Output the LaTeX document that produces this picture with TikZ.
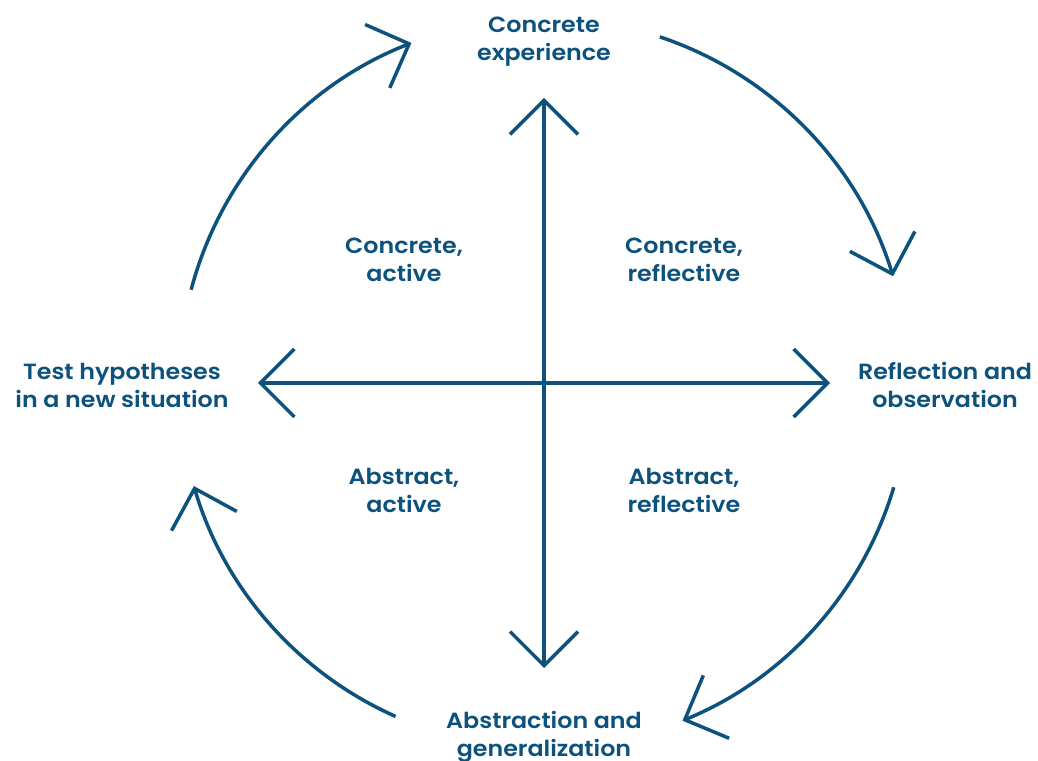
\documentclass[tikz,border=0pt]{standalone}
\usepackage{fontspec}
\setmainfont{Poppins}[BoldFont={Poppins SemiBold}, FakeStretch=1.08]
\usetikzlibrary{arrows.meta}
\definecolor{kolbblue}{RGB}{12,82,125}

\begin{document}
\begin{tikzpicture}
[
    x=1pt, y=1pt,
    % one unit is one pixel of the 1038x760 frame, origin bottom left
    every node/.style={align=center, text=kolbblue,
        font=\fontsize{22}{28}\selectfont\bfseries}
]

%=================================== Start ===================================
\tikzstyle{ax}  = [draw=kolbblue, line width=3.5pt,
                   -{Straight Barb[length=34pt, width=68pt]}]
\tikzstyle{lbl} = [inner sep=0pt]

\useasboundingbox (0,0) rectangle (1038,760);

% centre of the cycle and the ends of the two axes
\coordinate (C) at (544,377);
\coordinate (C-N) at (544,662);
\coordinate (C-S) at (544,92);
\coordinate (C-W) at (258,377);
\coordinate (C-E) at (830,377);

% stage labels
\node[lbl] (concrete)   at (544,718) {Concrete\\experience};
\node[lbl] (reflection) at (945,375) {Reflection and\\observation};
\node[lbl] (abstraction) at (544,23) {Abstraction and\\generalization};
\node[lbl] (test)       at (122,375) {Test hypotheses\\in a new situation};

% quadrant labels
\node[lbl] (q-ca) at (404,500) {Concrete,\\active};
\node[lbl] (q-cr) at (684,500) {Concrete,\\reflective};
\node[lbl] (q-aa) at (404,270) {Abstract,\\active};
\node[lbl] (q-ar) at (684,270) {Abstract,\\reflective};

% the two axes
\foreach \e in {N, S, W, E}
    \draw[ax] (C) -- (C-\e);

% the four arcs of the cycle
\foreach \a / \b in {71.5/17, -16.6/-67.7, -114/-163.6, 165.2/111.3}
    \draw[ax] (C) ++(\a:365) arc[start angle=\a, end angle=\b, radius=365];
%==================================== END ====================================

\end{tikzpicture}
\end{document}
